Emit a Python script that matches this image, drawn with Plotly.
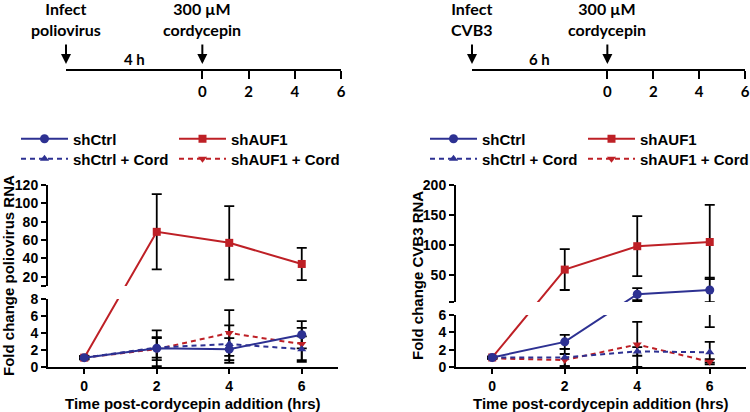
import plotly.graph_objects as go

# ---------------- data ----------------
time_hrs = [0, 2, 4, 6]

polio_shctrl = [1.1, 2.2, 2.1, 3.8]
polio_shctrl_err = [0.2, 2.1, 1.3, 1.6]
polio_shauf1 = [1.1, 69, 57, 34]
polio_shauf1_err = [0.2, 41, 40, 17.5]
polio_shctrl_cord = [1.1, 2.3, 2.7, 2.1]
polio_shctrl_cord_err = [0.1, 1.2, 2.2, 1.5]
polio_shauf1_cord = [1.1, 2.1, 4.0, 2.7]
polio_shauf1_cord_err = [0.1, 1.3, 2.7, 1.9]

cvb3_shctrl = [1.1, 2.9, 18, 25]
cvb3_shctrl_err = [0.1, 0.8, 10, 20.4]
cvb3_shauf1 = [1.1, 59, 98, 105]
cvb3_shauf1_err = [0.1, 34, 50, 62]
cvb3_shctrl_cord = [1.1, 1.1, 1.8, 1.7]
cvb3_shctrl_cord_err = [0.1, 1.0, 0.5, 1.2]
cvb3_shauf1_cord = [1.0, 0.8, 2.6, 0.6]
cvb3_shauf1_cord_err = [0.1, 0.7, 2.6, 0.3]

polio_lower_ticks = [0, 2, 4, 6, 8]
polio_upper_ticks = [20, 40, 60, 80, 100, 120]
cvb3_lower_ticks = [0, 2, 4, 6]
cvb3_upper_ticks = [50, 100, 150, 200]
x_ticks = [0, 2, 4, 6]
timeline_ticks = [0, 2, 4, 6]

series_names = ["shCtrl", "shAUF1", "shCtrl + Cord", "shAUF1 + Cord"]

# ---------------- layout helpers ----------------
W, H = 750, 412


def fx(p):
    return p / W


def fy(p):
    return 1 - p / H


BLUE = "#2D3192"
RED = "#BE2026"
FONT = "Liberation Sans, Arial, sans-serif"
TLFONT = "Lato, Open Sans, sans-serif"

styles = {
    "shCtrl": dict(color=BLUE, symbol="circle", dash="solid", size=9, rank=1, row=0, lw=96),
    "shAUF1": dict(color=RED, symbol="square", dash="solid", size=8, rank=2, row=0, lw=150),
    "shCtrl + Cord": dict(color=BLUE, symbol="triangle-up", dash="5px,4px", size=8, rank=3, row=1, lw=96),
    "shAUF1 + Cord": dict(color=RED, symbol="triangle-down", dash="5px,4px", size=8, rank=4, row=1, lw=150),
}
draw_order = ["shAUF1", "shAUF1 + Cord", "shCtrl + Cord", "shCtrl"]

panels = [
    dict(
        xa="x", lower="y", upper="y2",
        xdom=[fx(48), fx(338)],
        lower_range=[0, 8], lower_dom=[fy(367), fy(299)], lower_ticks=polio_lower_ticks,
        upper_range=[10, 120], upper_dom=[fy(286), fy(185)], upper_ticks=polio_upper_ticks,
        data={
            "shCtrl": (polio_shctrl, polio_shctrl_err),
            "shAUF1": (polio_shauf1, polio_shauf1_err),
            "shCtrl + Cord": (polio_shctrl_cord, polio_shctrl_cord_err),
            "shAUF1 + Cord": (polio_shauf1_cord, polio_shauf1_cord_err),
        },
        legends=["legend", "legend2"], legend_x=fx(16), legend_y=[fy(139), fy(159)],
        ytitle="Fold change poliovirus RNA", ytitle_x=fx(8),
        tl_x="x3", tl_y="y5", tl_dom=[fx(66), fx(341)],
        infect="Infect<br>poliovirus", gap="4 h",
    ),
    dict(
        xa="x2", lower="y3", upper="y4",
        xdom=[fx(456), fx(746)],
        lower_range=[0, 6], lower_dom=[fy(367), fy(315)], lower_ticks=cvb3_lower_ticks,
        upper_range=[5, 200], upper_dom=[fy(302), fy(185)], upper_ticks=cvb3_upper_ticks,
        data={
            "shCtrl": (cvb3_shctrl, cvb3_shctrl_err),
            "shAUF1": (cvb3_shauf1, cvb3_shauf1_err),
            "shCtrl + Cord": (cvb3_shctrl_cord, cvb3_shctrl_cord_err),
            "shAUF1 + Cord": (cvb3_shauf1_cord, cvb3_shauf1_cord_err),
        },
        legends=["legend3", "legend4"], legend_x=fx(425), legend_y=[fy(139), fy(159)],
        ytitle="Fold change CVB3 RNA", ytitle_x=fx(417),
        tl_x="x4", tl_y="y6", tl_dom=[fx(472), fx(745)],
        infect="Infect<br>CVB3", gap="6 h",
    ),
]

TL_RANGE = [-5.9, 6]


def paper_y(v, pn):
    """Paper position of a value on the broken axis."""
    if v > pn["lower_range"][1]:
        r, d = pn["upper_range"], pn["upper_dom"]
    else:
        r, d = pn["lower_range"], pn["lower_dom"]
    return d[0] + (v - r[0]) / (r[1] - r[0]) * (d[1] - d[0])


def to_axis(p, r, d):
    return r[0] + (p - d[0]) / (d[1] - d[0]) * (r[1] - r[0])


fig = go.Figure()
layout = dict(
    template="none",
    width=W, height=H, margin=dict(l=0, r=0, t=0, b=0, pad=0, autoexpand=False),
    paper_bgcolor="white", plot_bgcolor="white",
    font=dict(family=FONT, size=14, color="black", weight="bold"),
    showlegend=True, annotations=[], hovermode=False,
)


def ax_name(a):
    return a.replace("x", "xaxis").replace("y", "yaxis")


for pn in panels:
    # error bars (native values, clipped by each segment)
    for name in draw_order:
        vals, errs = pn["data"][name]
        for seg in ("lower", "upper"):
            fig.add_trace(go.Scatter(
                x=time_hrs, y=vals, xaxis=pn["xa"], yaxis=pn[seg],
                mode="markers", marker=dict(opacity=0, size=2),
                error_y=dict(type="data", array=errs, visible=True, color="black",
                             thickness=1.8, width=5),
                showlegend=False, hoverinfo="skip",
            ))
    # lines + markers (continuous across the break)
    for name in draw_order:
        st = styles[name]
        vals, errs = pn["data"][name]
        for seg in ("lower", "upper"):
            r, d = pn[seg + "_range"], pn[seg + "_dom"]
            yy = [to_axis(paper_y(v, pn), r, d) for v in vals]
            fig.add_trace(go.Scatter(
                x=time_hrs, y=yy, xaxis=pn["xa"], yaxis=pn[seg], name=name,
                mode="lines+markers",
                line=dict(color=st["color"], width=2, dash=st["dash"]),
                marker=dict(symbol=st["symbol"], size=st["size"], color=st["color"]),
                showlegend=(seg == "lower"), legend=pn["legends"][st["row"]],
                legendrank=st["rank"], legendwidth=st["lw"], hoverinfo="skip",
            ))
    # timeline dummy trace
    fig.add_trace(go.Scatter(x=[0], y=[0.5], xaxis=pn["tl_x"], yaxis=pn["tl_y"],
                             mode="markers", marker=dict(opacity=0),
                             showlegend=False, hoverinfo="skip"))

    common_ax = dict(showgrid=False, zeroline=False, showline=True, linewidth=2,
                     linecolor="black", ticks="outside", ticklen=5, tickwidth=2,
                     tickcolor="black", fixedrange=True, automargin=False,
                     tickfont=dict(family=FONT, size=14, color="black", weight="bold"))
    layout[ax_name(pn["xa"])] = dict(domain=pn["xdom"], range=[-1, 7], tickvals=x_ticks,
                                     anchor=pn["lower"], **common_ax)
    layout[ax_name(pn["lower"])] = dict(domain=pn["lower_dom"], range=pn["lower_range"],
                                        tickvals=pn["lower_ticks"], anchor=pn["xa"], **common_ax)
    up_vals = [pn["upper_range"][0]] + pn["upper_ticks"]
    up_text = [""] + [str(t) for t in pn["upper_ticks"]]
    layout[ax_name(pn["upper"])] = dict(domain=pn["upper_dom"], range=pn["upper_range"],
                                        tickvals=up_vals, ticktext=up_text,
                                        anchor=pn["xa"], **common_ax)
    # timeline axis
    layout[ax_name(pn["tl_x"])] = dict(
        domain=pn["tl_dom"], range=TL_RANGE, tickvals=timeline_ticks, anchor=pn["tl_y"],
        showgrid=False, zeroline=False, showline=True, linewidth=2, linecolor="black",
        ticks="outside", ticklen=8, tickwidth=2, tickcolor="black", fixedrange=True,
        automargin=False,
        tickfont=dict(family=TLFONT, size=15, color="black", weight="bold"))
    layout[ax_name(pn["tl_y"])] = dict(domain=[fy(69), fy(50)], range=[0, 1], visible=False,
                                       anchor=pn["tl_x"], fixedrange=True, automargin=False)

    # legends
    for i, lg in enumerate(pn["legends"]):
        layout[lg] = dict(orientation="h", x=pn["legend_x"], y=pn["legend_y"][i],
                          xanchor="left", yanchor="middle", bgcolor="rgba(0,0,0,0)",
                          borderwidth=0, itemwidth=47,
                          font=dict(family=FONT, size=15, color="black", weight="bold"),
                          itemclick=False, itemdoubleclick=False)

    # titles
    layout["annotations"] += [
        dict(text=pn["ytitle"], xref="paper", yref="paper", x=pn["ytitle_x"], y=fy(276),
             textangle=-90, showarrow=False, xanchor="center", yanchor="middle",
             font=dict(family=FONT, size=15, color="black", weight="bold")),
        dict(text="Time post-cordycepin addition (hrs)", xref="paper", yref="paper",
             x=(pn["xdom"][0] + pn["xdom"][1]) / 2, y=fy(403), showarrow=False,
             xanchor="center", yanchor="middle",
             font=dict(family=FONT, size=15, color="black", weight="bold")),
    ]
    # timeline annotations
    tl_font = dict(family=TLFONT, size=16, color="black", weight="bold")
    for xv, label in ((TL_RANGE[0], pn["infect"]), (0, "300 µM<br>cordycepin")):
        layout["annotations"] += [
            dict(text="", xref=pn["tl_x"], yref="paper", x=xv, y=fy(64), ax=0, ay=-21,
                 showarrow=True, arrowhead=2, arrowsize=1, arrowwidth=2, arrowcolor="black"),
            dict(text=label, xref=pn["tl_x"], yref="paper", x=xv, y=fy(19),
                 showarrow=False, xanchor="center", yanchor="middle", font=tl_font),
        ]
    layout["annotations"].append(
        dict(text=pn["gap"], xref=pn["tl_x"], yref="paper", x=TL_RANGE[0] / 2, y=fy(59),
             showarrow=False, xanchor="center", yanchor="middle",
             font=dict(family=TLFONT, size=15, color="black", weight="bold")))

fig.update_layout(**layout)
fig.write_html("out.html", config={"displayModeBar": False},
               post_script="document.body.style.margin='0px';document.body.style.padding='0px';")
